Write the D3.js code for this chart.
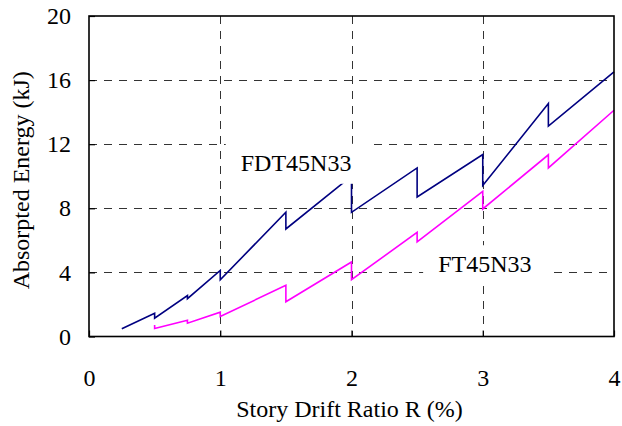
<!DOCTYPE html>
<html>
<head>
<meta charset="utf-8">
<script src="https://cdn.jsdelivr.net/npm/d3@7"></script>
<style>
  html, body { margin: 0; padding: 0; background: #fff; }
  svg { display: block; }
</style>
</head>
<body>
<svg id="chart" width="622" height="426"></svg>
<script>
// ---- data ----
const xTicks = [0, 1, 2, 3, 4];
const yTicks = [0, 4, 8, 12, 16, 20];

// FDT45N33 (story drift ratio %, absorbed energy kJ)
const fdtR = [0.25, 0.5, 0.5, 0.75, 0.75, 1, 1, 1.5, 1.5, 2, 2, 2.5, 2.5, 3, 3, 3.5, 3.5, 4];
const fdtE = [0.48, 1.45, 1.14, 2.55, 2.36, 4.12, 3.54, 7.75, 6.71, 10.0, 7.75, 10.52, 8.71, 11.36, 9.42, 14.54, 13.13, 16.52];

// FT45N33
const ftR = [0.5, 0.5, 0.75, 0.75, 1, 1, 1.5, 1.5, 2, 2, 2.5, 2.5, 3, 3, 3.5, 3.5, 4];
const ftE = [0.72, 0.5, 1.02, 0.83, 1.52, 1.25, 3.19, 2.17, 4.65, 3.54, 6.5, 5.9, 9.06, 7.96, 11.34, 10.52, 14.12];

const seriesNames = ["FDT45N33", "FT45N33"];
const seriesColors = ["#000080", "#ff00ff"];
const xTitle = "Story Drift Ratio R (%)";
const yTitle = "Absorpted Energy (kJ)";

// ---- layout ----
const FONT = "'Liberation Serif', Tinos, 'Times New Roman', Times, 'DejaVu Serif', serif";
const svg = d3.select("#chart");
const pL = 89, pR = 614, pT = 16, pB = 336.5;
const x = d3.scaleLinear().domain([0, 4]).range([pL, pR]);
const y = d3.scaleLinear().domain([0, 20]).range([pB, pT]);
const fontSize = 24;

// gridlines
const grid = svg.append("g").attr("stroke", "#333").attr("stroke-width", 1)
  .attr("stroke-dasharray", "8,7").attr("fill", "none");
yTicks.filter(v => v > 0 && v < 20).forEach(v => {
  grid.append("line").attr("x1", pL).attr("x2", pR)
    .attr("y1", Math.round(y(v)) + 0.5).attr("y2", Math.round(y(v)) + 0.5);
});
xTicks.filter(v => v > 0 && v < 4).forEach(v => {
  grid.append("line").attr("y1", pT).attr("y2", pB)
    .attr("x1", Math.round(x(v)) + 0.5).attr("x2", Math.round(x(v)) + 0.5);
});

// series lines
const line = d3.line().x(d => x(d[0])).y(d => y(d[1]));
const series = [d3.zip(fdtR, fdtE), d3.zip(ftR, ftE)];
series.forEach((s, i) => {
  svg.append("path").datum(s).attr("d", line)
    .attr("fill", "none").attr("stroke", seriesColors[i])
    .attr("stroke-width", 1.6).attr("stroke-linejoin", "miter");
});

// series labels with white background boxes
const labelPos = [[1.156, 10.34], [2.66, 4.01]];
seriesNames.forEach((name, i) => {
  const g = svg.append("g");
  const t = g.append("text").attr("x", x(labelPos[i][0])).attr("y", y(labelPos[i][1]))
    .attr("font-family", FONT).attr("font-size", fontSize).attr("fill", "#000").text(name);
  const bb = t.node().getBBox();
  g.insert("rect", "text")
    .attr("x", bb.x - 15).attr("y", bb.y - 6)
    .attr("width", bb.width + 34).attr("height", bb.height + 14)
    .attr("fill", "#fff");
});

// frame
svg.append("rect").attr("x", pL).attr("y", pT)
  .attr("width", pR - pL).attr("height", pB - pT)
  .attr("fill", "none").attr("stroke", "#000").attr("stroke-width", 1.6);

// axes (inward ticks)
const xAxis = d3.axisBottom(x).tickValues(xTicks).tickFormat(d3.format("d"))
  .tickSizeInner(-6).tickSizeOuter(0).tickPadding(32);
const yAxis = d3.axisLeft(y).tickValues(yTicks).tickFormat(d3.format("d"))
  .tickSizeInner(-6).tickSizeOuter(0).tickPadding(18);
const gx = svg.append("g").attr("transform", `translate(0,${pB})`).call(xAxis);
const gy = svg.append("g").attr("transform", `translate(${pL},0)`).call(yAxis);
[gx, gy].forEach(g => {
  g.attr("font-family", FONT).attr("font-size", fontSize);
  g.select(".domain").remove();
  g.selectAll(".tick line").attr("stroke", "#000").attr("stroke-width", 1.2);
  g.selectAll(".tick text").attr("fill", "#000");
});

// axis titles
svg.append("text").attr("x", (pL + pR) / 2 - 2).attr("y", 417)
  .attr("text-anchor", "middle").attr("font-family", FONT).attr("font-size", fontSize)
  .attr("fill", "#000").text(xTitle);
svg.append("text").attr("transform", `translate(29,${(pT + pB) / 2 + 4}) rotate(-90)`)
  .attr("text-anchor", "middle").attr("font-family", FONT).attr("font-size", fontSize)
  .attr("fill", "#000").text(yTitle);
</script>
</body>
</html>
